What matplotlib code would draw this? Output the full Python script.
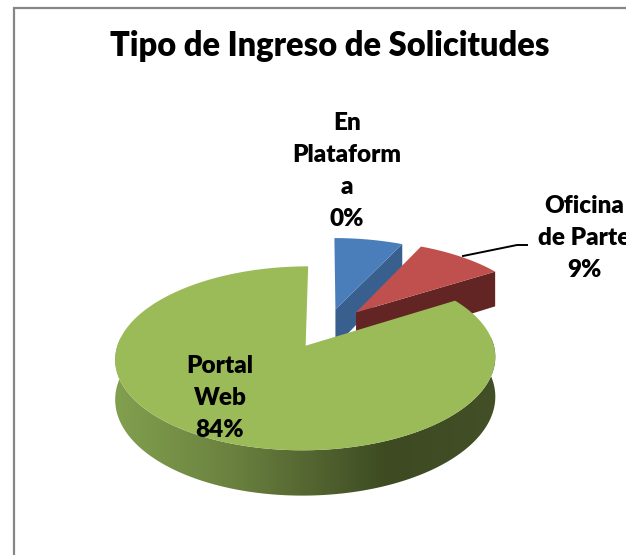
"""
Exploded 3D-style pie: Tipo de Ingreso de Solicitudes.
"""
import numpy as np
import matplotlib
matplotlib.use("Agg")
import matplotlib.pyplot as plt
from matplotlib.colors import LinearSegmentedColormap
from matplotlib.patches import Polygon

values = [7, 9, 84]  # slice sizes as drawn
names = ["En\nPlataform\na", "Oficina\nde Parte", "Portal\nWeb"]
pct_labels = ["0%", "9%", "84%"]  # the labels as printed on the chart
explode = [0.23, 0.25, 0.23]
title = "Tipo de Ingreso de Solicitudes"

top_colors = ["#4a7ebb", "#c0504d", "#9bbb59"]
side_colors = ["#385f8e", "#632523", "#6b8240"]
rim_cmap = LinearSegmentedColormap.from_list(
    "rim", [(0, "#81a04e"), (0.3, "#6b8240"), (0.72, "#3d4a22"), (1, "#434f27")])

# simple perspective camera from pie units to image pixels
CX, CY = 326.5, 328
F, G, D, H = 1372, 640, 7.49, 285


def project(x, y, lowered=False):
    x, y = np.asarray(x), np.asarray(y)
    sx = CX + F * x / (D + y)
    sy = CY - G * y / (D + y)
    if lowered:
        sy = sy + H / (D + y)
    return sx, sy


def arc(w, n=400):
    t = np.radians(np.linspace(w.theta1, w.theta2, n))
    return w.center[0] + w.r * np.cos(t), w.center[1] + w.r * np.sin(t)


fig = plt.figure(figsize=(6.26, 5.55), dpi=100)
ax = fig.add_axes([0, 0, 1, 1])
wedges, _ = ax.pie(values, explode=explode, startangle=90, counterclock=False, radius=1)
geoms = list(wedges)
for w in wedges:
    w.set_visible(False)

ax.set_aspect("auto")
ax.set_xlim(0, 626)
ax.set_ylim(555, 0)
ax.axis("off")

# chart frame, runs off the right and bottom of the image
ax.plot([13.5, 13.5, 640], [570, 7.5, 7.5], color="#868686", lw=1.6, zorder=1, solid_joinstyle="miter")

for i, w in enumerate(geoms):
    ax_, ay_ = arc(w)
    z = 2 + 2 * i
    if i < 2:
        # cut face on the clockwise edge
        ex, ey = ax_[0], ay_[0]
        px = [w.center[0], ex]
        py = [w.center[1], ey]
        s0 = project(px, py)
        s1 = project(px, py, lowered=True)
        ax.fill(np.r_[s0[0], s1[0][::-1]], np.r_[s0[1], s1[1][::-1]],
                color=side_colors[i], lw=0, zorder=z)
    else:
        # outer rim with the left to right shading, front part only
        front = ay_ <= w.center[1] + 0.1
        s0 = project(ax_[front], ay_[front])
        s1 = project(ax_[front], ay_[front], lowered=True)
        verts = np.c_[np.r_[s0[0], s1[0][::-1]], np.r_[s0[1], s1[1][::-1]]]
        im = ax.imshow(np.linspace(0, 1, 256)[None, :], cmap=rim_cmap, aspect="auto",
                       extent=(s1[0].min(), s1[0].max(), s1[1].max(), s0[1].min()), zorder=z)
        im.set_clip_path(Polygon(verts, transform=ax.transData))
    # top face
    sx, sy = project(np.r_[w.center[0], ax_], np.r_[w.center[1], ay_])
    ax.fill(sx, sy, color=top_colors[i], lw=0, zorder=z + 1)

ax.set_xlim(0, 626)
ax.set_ylim(555, 0)

font = dict(family="Lato", fontweight="heavy", color="black", ha="center", va="center", zorder=20)
ax.text(330, 46, title, fontsize=23.5, **font)
label_pos = [(347, 171), (584, 238), (220, 398)]
for name, pct, (lx, ly) in zip(names, pct_labels, label_pos):
    ax.text(lx, ly, name + "\n" + pct, fontsize=17.5, linespacing=1.55, **font)

# leader line to the Oficina de Parte label
ax.plot([463, 517, 527], [256, 245, 245], color="black", lw=1.4, zorder=20)

fig.savefig("out.png", dpi=100)
plt.close()
